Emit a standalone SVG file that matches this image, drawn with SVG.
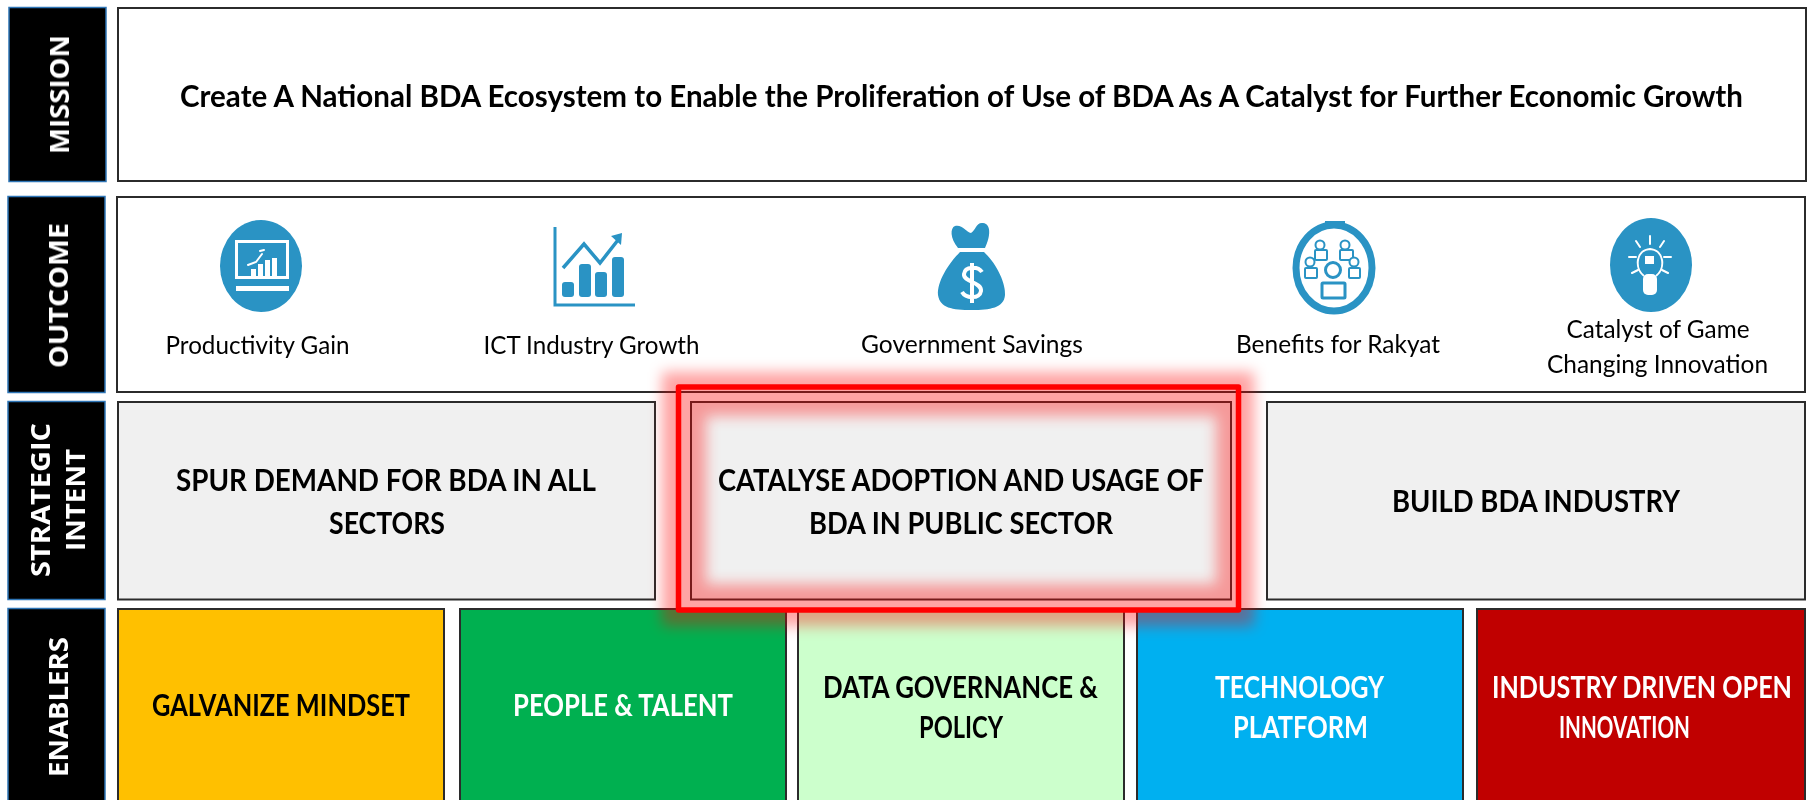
<svg xmlns="http://www.w3.org/2000/svg" width="1808" height="800" viewBox="0 0 1808 800">
<style>
text{font-family:Lato,"Liberation Sans",sans-serif;text-anchor:middle;fill:#000;filter:url(#soft)}
.box{stroke:#2b2b2b;stroke-width:2}
.side{fill:#000;stroke:#2e75b6;stroke-width:1.5}
.sidet{font-family:"Open Sans","Liberation Sans",sans-serif;font-weight:700;font-size:27px;fill:#fff}
.b{font-weight:700;font-size:30px}
.l{font-size:25px}
.w{fill:#fff}
.ic{fill:#2993c4;stroke:none}
.iw{fill:#fff;stroke:none}
.o{fill:none;stroke:#2993c4;stroke-width:2.5;stroke-linejoin:round}
.ow{fill:none;stroke:#fff;stroke-width:2;stroke-linecap:round}
.soft{filter:url(#soft2)}
</style>
<defs>
<filter id="soft" x="-5%" y="-20%" width="110%" height="140%"><feGaussianBlur stdDeviation="0.4"/></filter>
<filter id="soft2" x="-10%" y="-10%" width="120%" height="120%"><feGaussianBlur stdDeviation="0.7"/></filter>
<filter id="glow" filterUnits="userSpaceOnUse" x="600" y="320" width="720" height="340"><feGaussianBlur stdDeviation="7"/></filter>
</defs>
<rect width="1808" height="800" fill="#fff"/>

<g id="mission">
<rect class="side" x="9" y="7.5" width="97" height="174"/>
<text class="sidet" transform="translate(69,94.5) rotate(-90)" textLength="119" lengthAdjust="spacingAndGlyphs">MISSION</text>
<rect class="box" x="118" y="8" width="1688" height="173" fill="#fff"/>
<text class="b" x="961.5" y="107" textLength="1563" lengthAdjust="spacingAndGlyphs">Create A National BDA Ecosystem to Enable the Proliferation of Use of BDA As A Catalyst for Further Economic Growth</text>
</g>

<g id="outcome">
<rect class="side" x="8" y="196.5" width="97" height="196"/>
<text class="sidet" transform="translate(68,295.5) rotate(-90)" textLength="145" lengthAdjust="spacingAndGlyphs">OUTCOME</text>
<rect class="box" x="117" y="197" width="1688" height="195" fill="#fff"/>
</g>

<g id="outcome-productivity">
<g class="soft">
<ellipse class="ic" cx="261" cy="266" rx="41" ry="46"/>
<rect x="236.500" y="241.500" width="51" height="36" fill="none" stroke="#fff" stroke-width="3"/>
<rect class="iw" x="236" y="286" width="53" height="5"/>
<rect class="iw" x="251" y="269" width="5" height="8"/>
<rect class="iw" x="258" y="264" width="5" height="13"/>
<rect class="iw" x="265" y="260" width="5" height="17"/>
<rect class="iw" x="272" y="258" width="5" height="19"/>
<path class="ow" d="M248 265L256 262L262 254M260 251l4 -1"/>
</g>
<text class="l" x="257.500" y="354" textLength="184" lengthAdjust="spacingAndGlyphs">Productivity Gain</text>
</g>

<g id="outcome-ict">
<g class="soft">
<path d="M555 227V305H635" fill="none" stroke="#2993c4" stroke-width="3"/>
<rect class="ic" x="562" y="282" width="12" height="15" rx="3"/>
<rect class="ic" x="579" y="264" width="12" height="33" rx="3"/>
<rect class="ic" x="595" y="272" width="12" height="25" rx="3"/>
<rect class="ic" x="612" y="257" width="12" height="40" rx="3"/>
<path d="M563 268L584 244L600 263L618 240" fill="none" stroke="#2993c4" stroke-width="3.500"/>
<path class="ic" d="M622 233L611 236L621 245Z"/>
</g>
<text class="l" x="591.500" y="354" textLength="216" lengthAdjust="spacingAndGlyphs">ICT Industry Growth</text>
</g>

<g id="outcome-savings">
<g class="soft">
<path class="ic" d="M958 248C950 238 950 228 955 226C962 224 966 232 971 233C976 230 976 222 983 223C992 224 990 238 985 248Z"/>
<path class="ic" d="M960 252L984 252C998 265 1006 285 1005 295C1004 308 990 310 972 310C952 310 940 308 938 295C937 282 948 264 960 252Z"/>
<path d="M982 272C978 266 965 266 964 274C963 282 982 282 981 291C980 299 966 299 962 292M972 263V303" fill="none" stroke="#fff" stroke-width="4"/>
</g>
<text class="l" x="972" y="353" textLength="222" lengthAdjust="spacingAndGlyphs">Government Savings</text>
</g>

<g id="outcome-rakyat">
<g class="soft">
<ellipse cx="1334" cy="268" rx="38" ry="43" fill="#fff" stroke="#2993c4" stroke-width="7"/>
<rect class="ic" x="1325" y="221" width="20" height="4"/>
<g fill="#fff" stroke="#2993c4" stroke-width="2">
<circle cx="1320" cy="245" r="4.500"/><rect x="1315" y="250" width="12" height="10" rx="1"/>
<circle cx="1345" cy="245" r="4.500"/><rect x="1340" y="250" width="13" height="10" rx="1"/>
<circle cx="1310" cy="262" r="4.500"/><rect x="1305" y="268" width="12" height="10" rx="1"/>
<circle cx="1354" cy="262" r="4.500"/><rect x="1349" y="268" width="11" height="10" rx="1"/>
</g>
<g fill="#fff" stroke="#2993c4" stroke-width="3">
<circle cx="1333" cy="270" r="7.500"/><rect x="1322" y="283" width="23" height="15" rx="1"/>
</g>
</g>
<text class="l" x="1338" y="353" textLength="204" lengthAdjust="spacingAndGlyphs">Benefits for Rakyat</text>
</g>

<g id="outcome-innovation">
<g class="soft">
<ellipse class="ic" cx="1651" cy="265" rx="41" ry="47"/>
<path d="M1644 276C1634 268 1636 250 1650 249C1664 250 1666 268 1656 276" fill="none" stroke="#fff" stroke-width="2"/>
<rect class="iw" x="1643" y="274" width="14" height="21" rx="5"/>
<rect class="iw" x="1645" y="256" width="9" height="8"/>
<path class="ow" d="M1650 236V244M1636 241L1640 247M1664 241L1660 247M1629 257H1636M1664 257H1671M1632 273L1638 270M1668 273L1662 270"/>
</g>
<text class="l" x="1658" y="338" textLength="183" lengthAdjust="spacingAndGlyphs">Catalyst of Game</text>
<text class="l" x="1657.500" y="373" textLength="221" lengthAdjust="spacingAndGlyphs">Changing Innovation</text>
</g>

<g id="strategic-intent">
<rect class="side" x="8" y="401.500" width="97" height="198"/>
<text class="sidet" transform="translate(50,500) rotate(-90)" textLength="154" lengthAdjust="spacingAndGlyphs">STRATEGIC</text>
<text class="sidet" transform="translate(85,500) rotate(-90)" textLength="102" lengthAdjust="spacingAndGlyphs">INTENT</text>
</g>
<g id="intent-spur">
<rect class="box" x="118" y="402" width="537" height="197.500" fill="#f0f0f0"/>
<text class="b" x="386" y="491" textLength="420" lengthAdjust="spacingAndGlyphs">SPUR DEMAND FOR BDA IN ALL</text>
<text class="b" x="387" y="534" textLength="116" lengthAdjust="spacingAndGlyphs">SECTORS</text>
</g>
<g id="intent-catalyse">
<rect class="box" x="691" y="402" width="540" height="197.500" fill="#f0f0f0"/>
</g>
<g id="intent-build">
<rect class="box" x="1267" y="402" width="538" height="197.500" fill="#f0f0f0"/>
<text class="b" x="1536" y="512" textLength="288" lengthAdjust="spacingAndGlyphs">BUILD BDA INDUSTRY</text>
</g>

<g id="enablers">
<rect class="side" x="8" y="608.500" width="97" height="195"/>
<text class="sidet" transform="translate(68,707) rotate(-90)" textLength="140" lengthAdjust="spacingAndGlyphs">ENABLERS</text>
</g>
<g id="enabler-mindset">
<rect class="box" x="118" y="609" width="326" height="200" fill="#ffc000"/>
<text class="b" x="281" y="716" textLength="258" lengthAdjust="spacingAndGlyphs">GALVANIZE MINDSET</text>
</g>
<g id="enabler-people">
<rect class="box" x="460" y="609" width="326" height="200" fill="#00b050"/>
<text class="b w" x="623" y="716" textLength="220" lengthAdjust="spacingAndGlyphs">PEOPLE &amp; TALENT</text>
</g>
<g id="enabler-data">
<rect class="box" x="798" y="609" width="326" height="200" fill="#ccffcc"/>
<text class="b" x="960.500" y="698" textLength="275" lengthAdjust="spacingAndGlyphs">DATA GOVERNANCE &amp;</text>
<text class="b" x="961" y="738" textLength="84" lengthAdjust="spacingAndGlyphs">POLICY</text>
</g>
<g id="enabler-technology">
<rect class="box" x="1137" y="609" width="326" height="200" fill="#00b0f0"/>
<text class="b w" x="1299.500" y="698" textLength="169" lengthAdjust="spacingAndGlyphs">TECHNOLOGY</text>
<text class="b w" x="1300.500" y="738" textLength="135" lengthAdjust="spacingAndGlyphs">PLATFORM</text>
</g>
<g id="enabler-industry">
<rect class="box" x="1477" y="609" width="328" height="200" fill="#c00000"/>
<text class="b w" x="1642" y="698" textLength="300" lengthAdjust="spacingAndGlyphs">INDUSTRY DRIVEN OPEN</text>
<text class="b w" x="1624.500" y="738" textLength="131" lengthAdjust="spacingAndGlyphs">INNOVATION</text>
</g>

<g id="highlight">
<path d="M662 372H1254V626H662ZM706 416V584H1216V416Z" fill="#f00" fill-opacity="0.36" fill-rule="evenodd" filter="url(#glow)"/>
<rect x="678.500" y="387" width="560" height="223" fill="none" stroke="#f00" stroke-width="5.500" stroke-linejoin="round"/>
<text class="b" x="961" y="491" textLength="486" lengthAdjust="spacingAndGlyphs">CATALYSE ADOPTION AND USAGE OF</text>
<text class="b" x="961" y="534" textLength="304" lengthAdjust="spacingAndGlyphs">BDA IN PUBLIC SECTOR</text>
</g>
</svg>
